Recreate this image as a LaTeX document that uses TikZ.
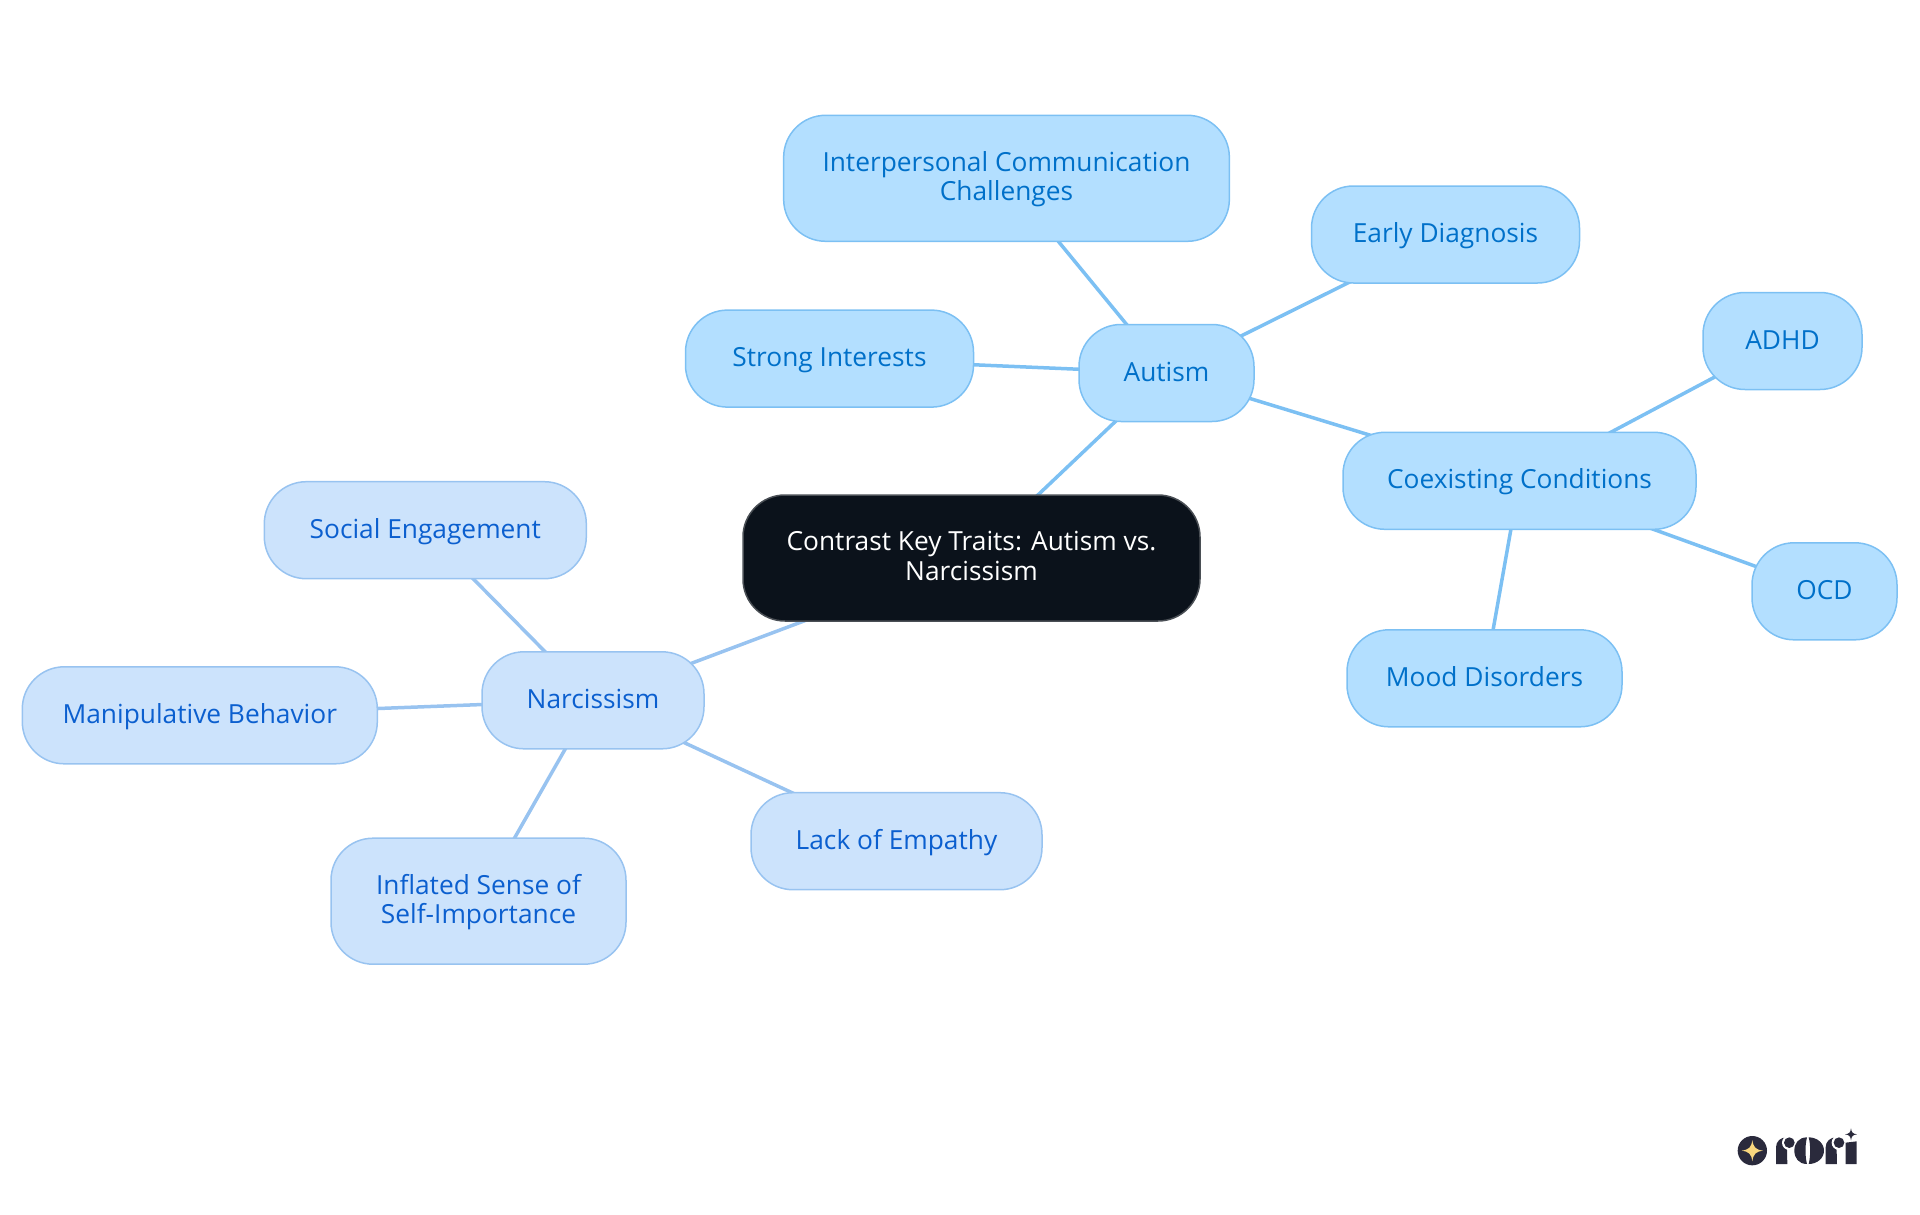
\documentclass[tikz,border=0pt]{standalone}
\usepackage{fontspec}
\setmainfont{Open Sans}
\usetikzlibrary{backgrounds}
\definecolor{autfill}{HTML}{B3DFFF}
\definecolor{autline}{HTML}{7CC0F3}
\definecolor{auttext}{HTML}{0070C9}
\definecolor{narfill}{HTML}{CCE3FC}
\definecolor{narline}{HTML}{98C3F0}
\definecolor{nartext}{HTML}{0B5FCF}
\definecolor{rootfill}{HTML}{0B121B}
\definecolor{rootline}{HTML}{4A4F55}
\definecolor{logoink}{HTML}{2A2A3C}
\definecolor{logostar}{HTML}{F9D77E}
\tikzset{
  basenode/.style={rounded corners=42pt,line width=1.5pt,inner sep=0pt,align=center,
    text height=23pt,text depth=7pt,
    font=\fontsize{26.3}{29.4}\selectfont},
  twolines/.style={text height=52pt,text depth=7.6pt},
  rootnode/.style={basenode,draw=rootline,fill=rootfill,text=white},
  autnode/.style={basenode,draw=autline,fill=autfill,text=auttext},
  narnode/.style={basenode,draw=narline,fill=narfill,text=nartext},
  autedge/.style={draw=autline,line width=3.5pt},
  naredge/.style={draw=narline,line width=3.5pt},
  sz/.style 2 args={minimum width=#1pt,minimum height=#2pt}
}
\begin{document}
\begin{tikzpicture}[x=1pt,y=-1pt]
\useasboundingbox (0,0) rectangle (1920,1215);
\node[rootnode,twolines,sz={457}{126}] (root) at (971.5,558) {Contrast Key Traits: Autism vs.\\Narcissism};
\node[autnode,sz={175}{97}] (autism) at (1166.5,373) {Autism};
\node[autnode,twolines,sz={445.7}{126}] (inter) at (1006.5,178.3) {Interpersonal Communication\\Challenges};
\node[autnode,sz={268}{97}] (early) at (1445.5,234.5) {Early Diagnosis};
\node[autnode,sz={288}{97}] (strong) at (829.5,358.6) {Strong Interests};
\node[autnode,sz={353}{97}] (coex) at (1519.5,480.8) {Coexisting Conditions};
\node[autnode,sz={159}{97}] (adhd) at (1782.5,341) {ADHD};
\node[autnode,sz={145}{97}] (ocd) at (1824.5,591.3) {OCD};
\node[autnode,sz={275}{97}] (mood) at (1484.5,678.3) {Mood Disorders};
\node[narnode,sz={222}{97}] (narc) at (593,700.3) {Narcissism};
\node[narnode,sz={322}{97}] (social) at (425.3,530.2) {Social Engagement};
\node[narnode,sz={355}{97}] (manip) at (199.8,715.3) {Manipulative Behavior};
\node[narnode,twolines,sz={295}{126}] (infl) at (478.5,901.2) {Inflated Sense of\\Self-Importance};
\node[narnode,sz={291}{97}] (lack) at (896.5,841.2) {Lack of Empathy};
\begin{pgfonlayer}{background}
\draw[autedge] (root.center) -- (autism.center);
\draw[autedge] (autism.center) -- (inter.center);
\draw[autedge] (autism.center) -- (early.center);
\draw[autedge] (autism.center) -- (strong.center);
\draw[autedge] (autism.center) -- (coex.center);
\draw[autedge] (coex.center) -- (adhd.center);
\draw[autedge] (coex.center) -- (ocd.center);
\draw[autedge] (coex.center) -- (mood.center);
\draw[naredge] (root.center) -- (narc.center);
\draw[naredge] (narc.center) -- (social.center);
\draw[naredge] (narc.center) -- (manip.center);
\draw[naredge] (narc.center) -- (infl.center);
\draw[naredge] (narc.center) -- (lack.center);
\end{pgfonlayer}
% logo
\begin{scope}[shift={(1700,1100)},x=0.3333pt,y=-0.3333pt]
\fill[logoink] (157,152) circle[radius=44];
\fill[logostar] (157,120) .. controls (160,142) and (167,149) .. (189,152)
  .. controls (167,155) and (160,162) .. (157,184)
  .. controls (154,162) and (147,155) .. (125,152)
  .. controls (147,149) and (154,142) .. (157,120) -- cycle;
% r
\fill[logoink] (228,192) -- (228,142) .. controls (228,124) and (242,112) .. (260,112)
  -- (262,192) -- cycle;
\fill[white] (268,128) circle[radius=22];
\fill[logoink] (268,128) circle[radius=16];
% o
\fill[logoink] (321,112) .. controls (296,112) and (283,130) .. (283,152)
  .. controls (283,174) and (296,192) .. (321,192)
  .. controls (315,170) and (315,134) .. (321,112) -- cycle;
\fill[logoink] (326,112) .. controls (352,112) and (372,130) .. (372,152)
  .. controls (372,174) and (352,192) .. (326,192)
  .. controls (332,170) and (332,134) .. (326,112) -- cycle;
% r
\fill[logoink] (377,192) -- (377,142) .. controls (377,124) and (391,112) .. (409,112)
  -- (411,192) -- cycle;
\fill[white] (417,128) circle[radius=22];
\fill[logoink] (417,128) circle[radius=16];
% i
\fill[logoink] (437,192) -- (437,128) -- (470,124) -- (470,192) -- cycle;
% spark
\fill[logoink] (453,85) .. controls (455,98) and (458,101) .. (471,103)
  .. controls (458,105) and (455,108) .. (453,121)
  .. controls (451,108) and (448,105) .. (435,103)
  .. controls (448,101) and (451,98) .. (453,85) -- cycle;
\end{scope}
\end{tikzpicture}
\end{document}
